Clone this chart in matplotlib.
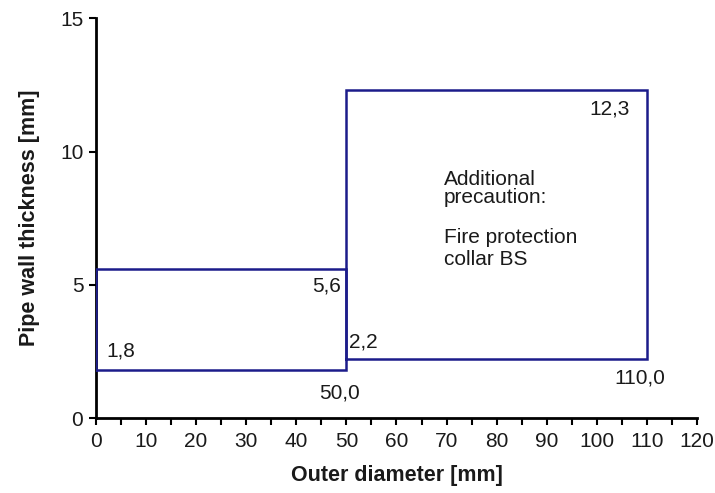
import matplotlib
matplotlib.use("Agg")
import matplotlib.pyplot as plt
from matplotlib.ticker import MultipleLocator

plt.rcParams['font.family'] = ['Liberation Sans', 'DejaVu Sans']

# Range boundaries: (outer diameter from, to, wall thickness min, max)
small_d = [0.0, 50.0]
small_s = [1.8, 5.6]
large_d = [50.0, 110.0]
large_s = [2.2, 12.3]
x_ticks = [0, 10, 20, 30, 40, 50, 60, 70, 80, 90, 100, 110, 120]
y_ticks = [0, 5, 10, 15]

line_color = '#1c1c8a'
text_color = '#1a1a1a'

fig = plt.figure(figsize=(7.15, 4.93), dpi=100)
ax = fig.add_axes([0.134, 0.152, 0.841, 0.811])


def draw_box(d, s):
    xs = [d[0], d[1], d[1], d[0], d[0]]
    ys = [s[0], s[0], s[1], s[1], s[0]]
    ax.plot(xs, ys, color=line_color, lw=1.8, solid_joinstyle='miter', zorder=3)


def fmt(v):
    return f"{v:.1f}".replace('.', ',')


draw_box(small_d, small_s)
draw_box(large_d, large_s)

fs = 15
kw = dict(fontsize=fs, color=text_color)
ax.text(small_d[0] + 2.2, small_s[0] + 0.35, fmt(small_s[0]), ha='left', va='bottom', **kw)
ax.text(small_d[1] - 1.0, small_s[1] - 0.3, fmt(small_s[1]), ha='right', va='top', **kw)
ax.text(small_d[1] - 1.3, small_s[0] - 0.5, fmt(small_d[1]), ha='center', va='top', **kw)
ax.text(large_d[0] + 0.6, large_s[0] + 0.3, fmt(large_s[0]), ha='left', va='bottom', **kw)
ax.text(large_d[1] - 3.4, large_s[1] - 0.35, fmt(large_s[1]), ha='right', va='top', **kw)
ax.text(large_d[1] - 1.4, large_s[0] - 0.35, fmt(large_d[1]), ha='center', va='top', **kw)

ax.text(69.5, 9.3, "Additional\nprecaution:", ha='left', va='top',
        linespacing=0.9, **kw)
ax.text(69.5, 7.12, "Fire protection\ncollar BS", ha='left', va='top',
        linespacing=1.15, **kw)

ax.set_xlim(0, 120)
ax.set_ylim(0, 15)
ax.set_xticks(x_ticks)
ax.set_yticks(y_ticks)
ax.xaxis.set_minor_locator(MultipleLocator(5))
ax.tick_params(axis='both', which='both', labelsize=fs, labelcolor=text_color,
               width=1.5, color='black', direction='out', length=5)
ax.tick_params(axis='x', which='both', pad=5)
ax.tick_params(axis='y', which='major', pad=4)

for side in ('top', 'right'):
    ax.spines[side].set_visible(False)
for side in ('left', 'bottom'):
    ax.spines[side].set_linewidth(2)

ax.set_xlabel("Outer diameter [mm]", fontsize=15.5, fontweight='bold', labelpad=10,
              color=text_color)
ax.set_ylabel("Pipe wall thickness [mm]", fontsize=15.5, fontweight='bold', labelpad=14,
              color=text_color)

fig.savefig("out.png", dpi=100)
